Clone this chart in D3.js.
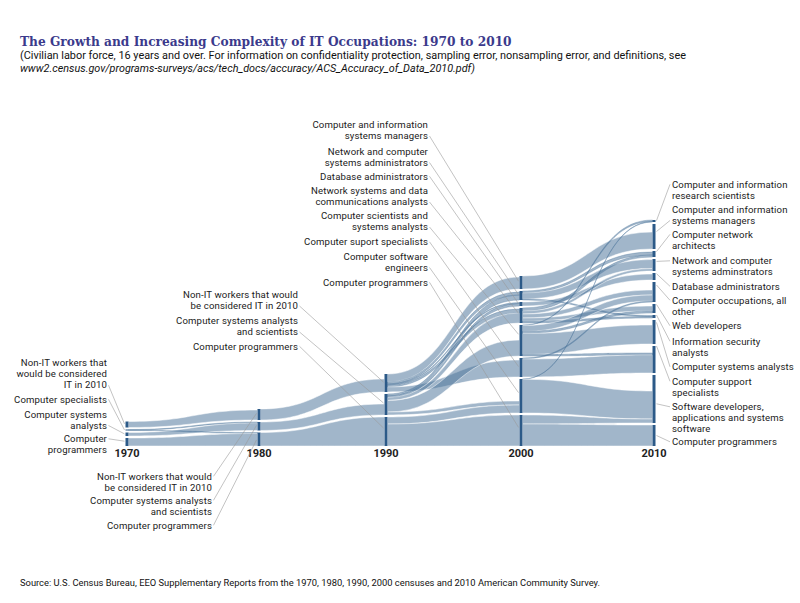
<!DOCTYPE html>
<html><head><meta charset="utf-8">
<script src="https://cdn.jsdelivr.net/npm/d3@7"></script>
<style>body{margin:0;background:#fff} svg{display:block}</style>
</head><body>
<svg id="chart" width="800" height="603"></svg>
<script>
// ---------------- DATA (thousands of workers) ----------------
const years = [1970, 1980, 1990, 2000, 2010];

const cats1970 = ["Non-IT workers that would be considered IT in 2010", "Computer specialists", "Computer systems analysts", "Computer programmers"];
const vals1970 = [120, 20, 70, 160];
const cats1980 = ["Non-IT workers that would be considered IT in 2010", "Computer systems analysts and scientists", "Computer programmers"];
const vals1980 = [220, 170, 270];
const cats1990 = ["Non-IT workers that would be considered IT in 2010", "Computer systems analysts and scientists", "Computer programmers"];
const vals1990 = [360, 420, 580];
const cats2000 = ["Computer and information systems managers", "Network and computer systems administrators", "Database administrators", "Network systems and data communications analysts", "Computer scientists and systems analysts", "Computer suport specialists", "Computer software engineers", "Computer programmers"];
const vals2000 = [260, 180, 80, 300, 620, 380, 680, 620];
const cats2010 = ["Computer and information research scientists", "Computer and information systems managers", "Computer network architects", "Network and computer systems adminstrators", "Database administrators", "Computer occupations, all other", "Web developers", "Information security analysts", "Computer systems analysts", "Computer support specialists", "Software developers, applications and systems software", "Computer programmers"];
const vals2010 = [40, 500, 120, 240, 140, 400, 180, 60, 480, 540, 960, 420];

// flows between consecutive years: [source index, target index, share at source, share at target]
const flows1970 = [[0,0,120,200],[1,1,10,20],[1,2,10,20],[2,1,70,150],[3,2,160,250]];
const flows1980 = [[0,0,220,260],[1,1,170,220],[2,2,270,580]];
const flows1990 = [[0,0,160,240],[0,1,40,60],[0,2,20,20],[0,3,40,80],[0,5,100,340],
                   [1,1,40,100],[1,2,30,50],[1,3,60,200],[1,4,230,320],[1,6,60,80],
                   [2,6,140,160],[2,7,440,620]];
const flows2000 = [[0,1,260,340],[1,2,40,60],[1,3,120,180],[1,7,20,20],[2,4,80,120],
                   [3,2,60,40],[3,3,60,50],[3,5,80,100],[3,6,60,100],[3,7,40,30],
                   [4,0,10,30],[4,5,120,120],[4,6,40,40],[4,8,420,380],[4,9,30,40],
                   [5,5,20,20],[5,9,360,360],[6,0,5,10],[6,10,675,560],[7,10,180,80],[7,11,440,420]];

// label texts (line-broken as in the original)
const labels1970 = [["Non-IT workers that","would be considered","IT in 2010"],["Computer specialists"],["Computer systems","analysts"],["Computer","programmers"]];
const labels1980 = [["Non-IT workers that would","be considered IT in 2010"],["Computer systems analysts","and scientists"],["Computer programmers"]];
const labels1990 = [["Non-IT workers that would","be considered IT in 2010"],["Computer systems analysts","and scientists"],["Computer programmers"]];
const labels2000 = [["Computer and information","systems managers"],["Network and computer","systems administrators"],["Database administrators"],["Network systems and data","communications analysts"],["Computer scientists and","systems analysts"],["Computer suport specialists"],["Computer software","engineers"],["Computer programmers"]];
const labels2010 = [["Computer and information","research scientists"],["Computer and information","systems managers"],["Computer network","architects"],["Network and computer","systems adminstrators"],["Database administrators"],["Computer occupations, all","other"],["Web developers"],["Information security","analysts"],["Computer systems analysts"],["Computer support","specialists"],["Software developers,","applications and systems","software"],["Computer programmers"]];

const titleText = "The Growth and Increasing Complexity of IT Occupations: 1970 to 2010";
const subtitle1 = "(Civilian labor force, 16 years and over. For information on confidentiality protection, sampling error, nonsampling error, and definitions, see";
const subtitle2 = "www2.census.gov/programs-surveys/acs/tech_docs/accuracy/ACS_Accuracy_of_Data_2010.pdf)";
const sourceText = "Source: U.S. Census Bureau, EEO Supplementary Reports from the 1970, 1980, 1990, 2000 censuses and 2010 American Community Survey.";

// ---------------- LAYOUT ----------------
const svg = d3.select("#chart");
const x = d3.scaleLinear().domain(years).range([127, 259, 386, 521, 654]);
const h = d3.scaleLinear().domain([0, 1000]).range([0, 50]);
const baseY = 446, gap = 2, barW = 3;
const linkColor = "#4d759b", barColor = "#2c5a88", leadColor = "#9a9a9a";
const labelFont = "Roboto, 'Liberation Sans', sans-serif";

const cols = [
  {cats: cats1970, vals: vals1970, labels: labels1970},
  {cats: cats1980, vals: vals1980, labels: labels1980},
  {cats: cats1990, vals: vals1990, labels: labels1990},
  {cats: cats2000, vals: vals2000, labels: labels2000},
  {cats: cats2010, vals: vals2010, labels: labels2010}
];
const flowSets = [flows1970, flows1980, flows1990, flows2000];

cols.forEach((c, ci) => {
  c.x = x(years[ci]);
  c.nodes = c.cats.map((name, i) => ({name, value: c.vals[i]}));
  let y = baseY;
  for (let i = c.nodes.length - 1; i >= 0; i--) {
    const hh = h(c.nodes[i].value);
    c.nodes[i].y0 = y - hh; c.nodes[i].y1 = y;
    y -= hh + gap;
  }
});

// build link geometry
const links = [];
flowSets.forEach((fs, t) => {
  const S = cols[t], T = cols[t + 1];
  const ls = fs.map(f => ({s: f[0], t: f[1], sv: f[2], tv: f[3]}));
  S.nodes.forEach((n, i) => {
    let y = n.y0;
    ls.filter(l => l.s === i).sort((a, b) => a.t - b.t).forEach(l => {
      l.a0 = y; y += h(l.sv); l.a1 = y;
    });
  });
  T.nodes.forEach((n, i) => {
    const inc = ls.filter(l => l.t === i).sort((a, b) => a.s - b.s);
    let y = n.y1 - d3.sum(inc, l => h(l.tv));
    inc.forEach(l => { l.b0 = y; y += h(l.tv); l.b1 = y; });
  });
  ls.forEach(l => { l.x0 = S.x + barW / 2; l.x1 = T.x - barW / 2; links.push(l); });
});

function band(l) {
  const xm = (l.x0 + l.x1) / 2;
  const p = d3.path();
  p.moveTo(l.x0, l.a0);
  p.bezierCurveTo(xm, l.a0, xm, l.b0, l.x1, l.b0);
  p.lineTo(l.x1, l.b1);
  p.bezierCurveTo(xm, l.b1, xm, l.a1, l.x0, l.a1);
  p.closePath();
  return p.toString();
}

svg.append("g").selectAll("path").data(links).join("path")
  .attr("d", band)
  .attr("fill", linkColor)
  .attr("fill-opacity", 0.53)
  .attr("stroke", l => (h(l.sv) > 2 && h(l.tv) > 2) ? "#fff" : linkColor)
  .attr("stroke-width", l => (h(l.sv) > 2 && h(l.tv) > 2) ? 0.6 : 0.4)
  .attr("stroke-opacity", 0.8);

// node bars
const barG = svg.append("g");
cols.forEach(c => {
  barG.selectAll(null).data(c.nodes).join("rect")
    .attr("x", c.x - barW / 2).attr("width", barW)
    .attr("y", d => d.y0).attr("height", d => Math.max(0.8, d.y1 - d.y0))
    .attr("fill", barColor);
});

// year labels
svg.append("g").selectAll("text").data(years).join("text")
  .attr("x", d => x(d)).attr("y", 457)
  .attr("text-anchor", "middle")
  .attr("font-family", labelFont).attr("font-weight", "bold").attr("font-size", 11)
  .attr("fill", "#222").text(d => d);

// label placement (layout only)
const LH = 11.2;
const labelLayout = [
  {anchor: "end", x: 107, first: [366, 402.5, 417.5, 442], lead: [2, 0, 1, 0], frac: [0.4, 0.5, 0.4, 0.4]},
  {anchor: "end", x: 212, first: [479.5, 503.5, 528.5], lead: [0, 0, 0], frac: [0.4, 0.4, 0.55]},
  {anchor: "end", x: 298, first: [298, 324, 349.5], lead: [1, 1, 0], frac: [0.45, 0.43, 0.38]},
  {anchor: "end", x: 428, first: [128, 154.5, 179.5, 194, 219, 245, 259.5, 285.5], lead: [1, 1, 0, 1, 1, 0, 1, 0], frac: [0.4, 0.4, 0.4, 0.35, 0.3, 0.45, 0.4, 0.4]},
  {anchor: "start", x: 672, first: [187.5, 212.5, 237.5, 264, 289.5, 303.5, 329, 344.5, 370, 384.5, 410, 445], lead: [0, 1, 0, 0, 0, 0, 0, 0, 0, 0, 0, 0], frac: [0.3, 0.3, 0.1, 0.2, 0.1, 0.15, 0.05, 0, 0.1, 0, 0.6, 0.5]}
];

// font size chosen so that label widths match the original
const probe = svg.append("text").attr("font-family", labelFont).attr("font-size", 10).text("Computer programmers");
const fs = Math.min(9.6, 10 * 105 / probe.node().getComputedTextLength());
probe.attr("font-size", fs);
const extra = (105 - probe.node().getComputedTextLength()) / 20;
probe.remove();

const labG = svg.append("g");
cols.forEach((c, ci) => {
  const L = labelLayout[ci];
  c.labels.forEach((lines, i) => {
    const n = c.nodes[i];
    const t = labG.append("text").attr("text-anchor", L.anchor)
      .attr("font-family", labelFont).attr("font-size", fs)
      .attr("letter-spacing", Math.max(0, extra)).attr("fill", "#1a1a1a");
    lines.forEach((ln, k) => t.append("tspan").attr("x", L.x).attr("y", L.first[i] + k * LH).text(ln));
    const ly = L.first[i] + L.lead[i] * LH - 3.2;
    const lx = L.anchor === "end" ? L.x + 1.5 : L.x - 2;
    const ex = L.anchor === "end" ? c.x - barW / 2 - 1 : c.x + barW / 2 + 1;
    const ey = n.y0 + L.frac[i] * (n.y1 - n.y0);
    labG.append("line").attr("x1", lx).attr("y1", ly).attr("x2", ex).attr("y2", ey)
      .attr("stroke", leadColor).attr("stroke-width", 0.6);
  });
});

// titles
const title = svg.append("text").attr("x", 20).attr("y", 46)
  .attr("font-family", "'DejaVu Serif', serif").attr("font-weight", "bold").attr("font-size", 13)
  .attr("fill", "#3b3a8c").text(titleText);
const tl = title.node().getComputedTextLength();
title.attr("font-size", 13 * 492 / tl);

function fitted(txt, xx, yy, size, width, italic) {
  const t = svg.append("text").attr("x", xx).attr("y", yy)
    .attr("font-family", labelFont).attr("font-size", size).attr("fill", "#111")
    .attr("font-style", italic ? "italic" : "normal").text(txt);
  t.attr("textLength", width).attr("lengthAdjust", "spacingAndGlyphs");
  return t;
}
fitted(subtitle1, 20, 59, 10, 666, false);
fitted(subtitle2, 20, 71.5, 10, 455, true);
fitted(sourceText, 20, 586, 9, 580, false);
</script>
</body></html>
